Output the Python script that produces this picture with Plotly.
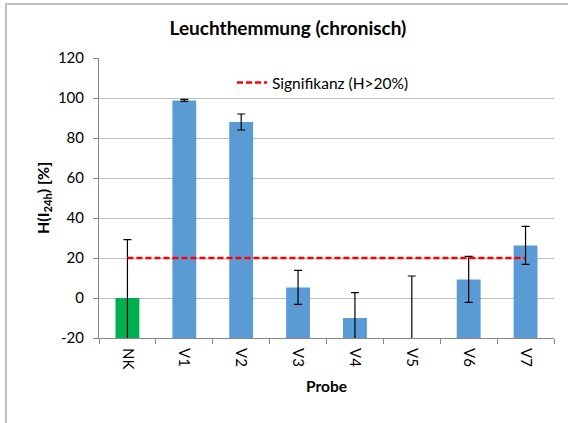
import plotly.graph_objects as go

categories = ["NK", "V1", "V2", "V3", "V4", "V5", "V6", "V7"]
values = [0.0, 98.8, 88.0, 5.3, -10.0, -20.0, 9.3, 26.3]
errors = [29.2, 0.5, 4.0, 8.5, 12.7, 31.0, 11.5, 9.5]
bar_colors = ["#00B050"] + ["#5B9BD5"] * 7
threshold = [20] * 8
axis_min = -20
y_ticks = [-20, 0, 20, 40, 60, 80, 100, 120]
y_ticktext = [str(t) for t in y_ticks]

FONT = "Lato"

fig = go.Figure()
fig.add_trace(go.Bar(
    x=categories,
    y=[v - axis_min for v in values],
    base=axis_min,
    marker=dict(color=bar_colors, line=dict(width=0)),
    width=0.42,
    showlegend=False,
))
fig.add_trace(go.Scatter(
    x=categories, y=values, mode="markers",
    marker=dict(size=1, opacity=0),
    error_y=dict(type="data", array=errors, visible=True, color="black", thickness=1.2, width=4),
    showlegend=False, hoverinfo="skip",
))
fig.add_trace(go.Scatter(
    x=categories, y=threshold, mode="lines",
    line=dict(color="#FF0000", width=2.5, dash="6px,3px"),
    name="Signifikanz (H>20%)",
))

fig.update_layout(
    width=568, height=423,
    margin=dict(l=99, r=14, t=58, b=85),
    paper_bgcolor="white", plot_bgcolor="white",
    font=dict(family=FONT, size=15, color="black"),
    title=dict(text="<b>Leuchthemmung (chronisch)</b>", x=0.507, xanchor="center",
               y=1 - 28 / 423, yanchor="middle", font=dict(size=19, family=FONT)),
    showlegend=True,
    legend=dict(x=(232 - 99) / 455, xanchor="left", y=(338 - 83) / 280, yanchor="middle",
                bgcolor="rgba(0,0,0,0)", font=dict(size=15.5), tracegroupgap=0),
    bargap=0.58,
    shapes=[dict(type="rect", xref="paper", yref="paper",
                 x0=(6 - 99) / 455, x1=(575 - 99) / 455,
                 y0=(338 - 430) / 280, y1=1 + (58 - 4) / 280,
                 line=dict(color="#BFBFBF", width=2), layer="below")],
    annotations=[dict(text="<b>H(I<sub>24h</sub>) [%]</b>", xref="paper", yref="paper",
                      x=(43 - 99) / 455, y=0.5, xanchor="center", yanchor="middle",
                      textangle=-90, showarrow=False, font=dict(size=16))],
)
fig.update_xaxes(
    type="category", tickangle=90, ticks="outside", tickson="boundaries", ticklen=5,
    tickcolor="#868686", showline=True, linecolor="#868686", linewidth=1,
    showgrid=False, tickfont=dict(size=15), ticklabelstandoff=6,
    title=dict(text="<b>Probe</b>", font=dict(size=15.5), standoff=12),
)
fig.update_yaxes(
    range=[-20, 120], tickvals=y_ticks, ticktext=y_ticktext, ticks="outside", ticklen=5,
    tickcolor="#868686", showline=True, linecolor="#868686", linewidth=1,
    showgrid=True, gridcolor="#BFBFBF", gridwidth=1, zeroline=False,
    tickfont=dict(size=15), ticklabelstandoff=6,
)

fig.write_html("out.html")
